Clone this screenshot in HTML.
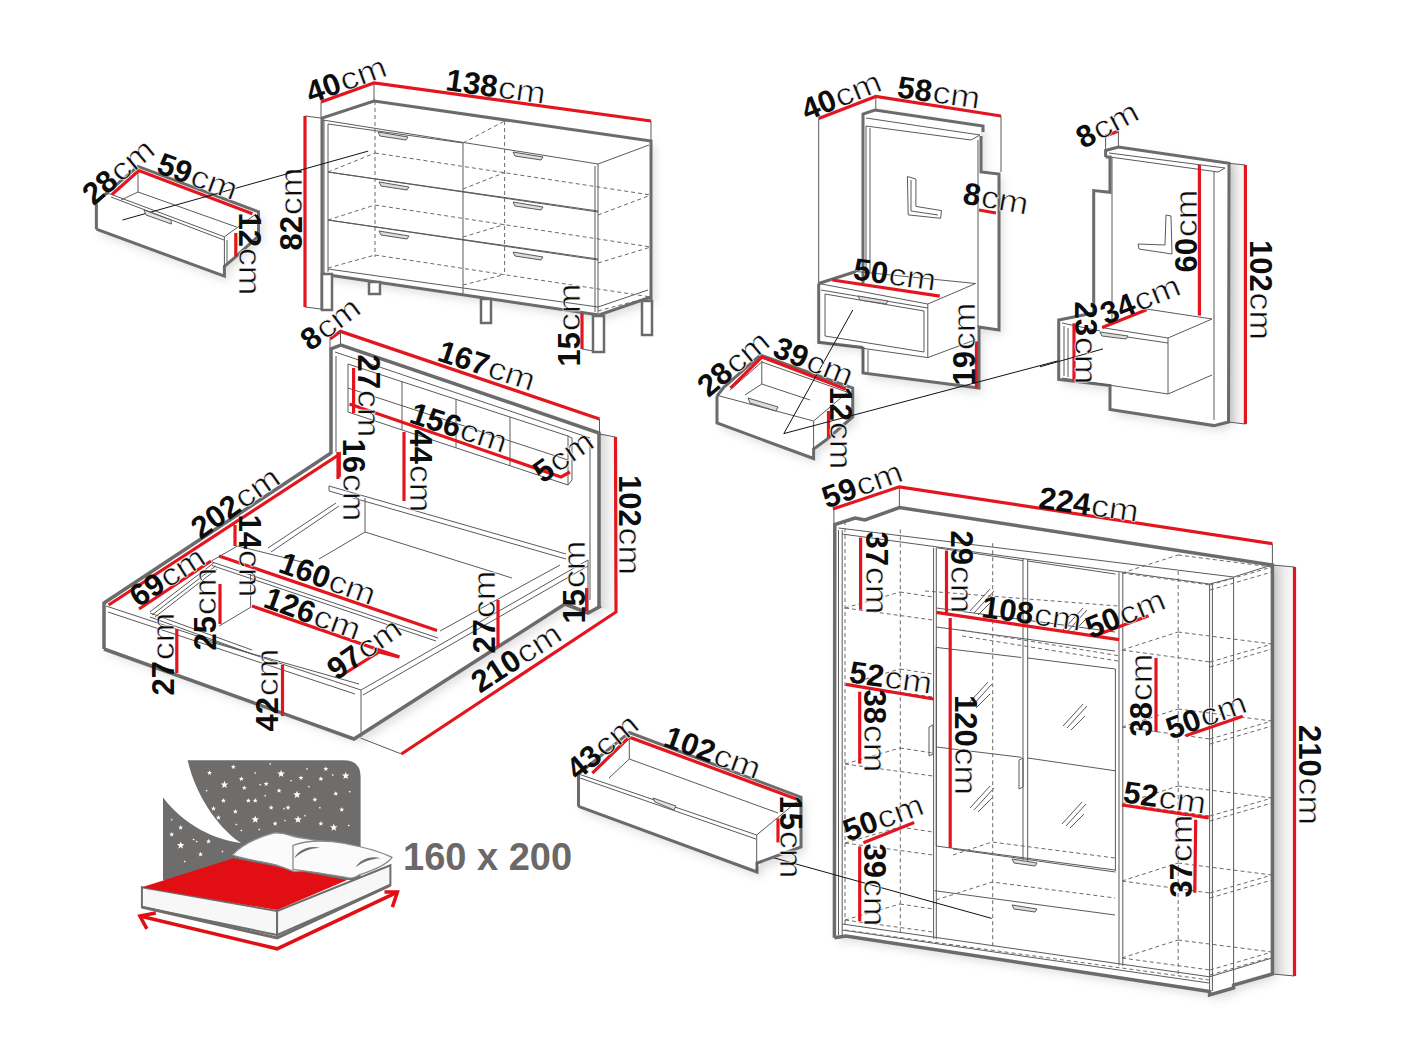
<!DOCTYPE html>
<html><head><meta charset="utf-8"><style>
html,body{margin:0;padding:0;background:#fff;width:1408px;height:1056px;overflow:hidden}
svg{display:block}
.t{font-family:"Liberation Sans",sans-serif;fill:#0d0d0d}
.b{font-weight:bold}
.u{stroke:#fff;stroke-width:0.6px}
</style></head><body>
<svg width="1408" height="1056" viewBox="0 0 1408 1056">
<defs><linearGradient id="sg" x1="0" x2="1" y1="0" y2="0"><stop offset="0" stop-color="#d6d6d6"/><stop offset="0.6" stop-color="#f0f0f0"/><stop offset="1" stop-color="#fafafa"/></linearGradient><filter id="sh" x="-20%" y="-20%" width="140%" height="140%"><feDropShadow dx="4" dy="5" stdDeviation="5" flood-color="#000" flood-opacity="0.13"/></filter></defs>
<rect width="1408" height="1056" fill="#fff"/>
<polygon points="322,118 374,101 651,141 651,297 599,315 324,274" fill="#fff" stroke="none" stroke-width="0" stroke-linejoin="miter" filter="url(#sh)"/>
<polyline points="323,120 598,164 649,145" fill="none" stroke="#5a5a5a" stroke-width="1" stroke-linejoin="miter" stroke-linecap="butt" />
<polyline points="328,124 463,143" fill="none" stroke="#5a5a5a" stroke-width="1" stroke-linejoin="miter" stroke-linecap="butt" />
<polyline points="598,164 598,313" fill="none" stroke="#5a5a5a" stroke-width="1" stroke-linejoin="miter" stroke-linecap="butt" />
<polyline points="595,166 595,312" fill="none" stroke="#5a5a5a" stroke-width="1" stroke-linejoin="miter" stroke-linecap="butt" />
<polyline points="324,120 324,273" fill="none" stroke="#5a5a5a" stroke-width="1" stroke-linejoin="miter" stroke-linecap="butt" />
<polyline points="328,124 328,272" fill="none" stroke="#5a5a5a" stroke-width="1" stroke-linejoin="miter" stroke-linecap="butt" />
<polyline points="463,143 463,294" fill="none" stroke="#5a5a5a" stroke-width="1" stroke-linejoin="miter" stroke-linecap="butt" />
<polyline points="328,172 598,212" fill="none" stroke="#5a5a5a" stroke-width="1" stroke-linejoin="miter" stroke-linecap="butt" />
<polyline points="328,220 598,260" fill="none" stroke="#5a5a5a" stroke-width="1" stroke-linejoin="miter" stroke-linecap="butt" />
<polyline points="328,172 598,211" fill="none" stroke="#5a5a5a" stroke-width="1" stroke-linejoin="miter" stroke-linecap="butt" />
<polyline points="328,220 598,259" fill="none" stroke="#5a5a5a" stroke-width="1" stroke-linejoin="miter" stroke-linecap="butt" />
<polyline points="328,269 598,307 648,290" fill="none" stroke="#5a5a5a" stroke-width="1" stroke-linejoin="miter" stroke-linecap="butt" />
<polyline points="322,274 599,315 651,297" fill="none" stroke="#6b6b6b" stroke-width="3" stroke-linejoin="miter" stroke-linecap="butt" />
<polyline points="322,310 322,118 374,101 651,141 651,334" fill="none" stroke="#6b6b6b" stroke-width="3" stroke-linejoin="miter" stroke-linecap="butt" />
<polygon points="322,274 332,274 332,310 322,310" fill="#fff" stroke="#6b6b6b" stroke-width="2.5" stroke-linejoin="miter" />
<polygon points="369,282 380,282 380,294 369,294" fill="#fff" stroke="#6b6b6b" stroke-width="2.5" stroke-linejoin="miter" />
<polygon points="481,299 491,299 491,323 481,323" fill="#fff" stroke="#6b6b6b" stroke-width="2.5" stroke-linejoin="miter" />
<polygon points="593,316 604,316 604,352 593,352" fill="#fff" stroke="#6b6b6b" stroke-width="2.5" stroke-linejoin="miter" />
<polygon points="642,301 652,301 652,335 642,335" fill="#fff" stroke="#6b6b6b" stroke-width="2.5" stroke-linejoin="miter" />
<polyline points="375,101 375,257" fill="none" stroke="#6a6a6a" stroke-width="1" stroke-linejoin="miter" stroke-linecap="butt" stroke-dasharray="4 3" />
<polyline points="504.6,121 504.6,274" fill="none" stroke="#6a6a6a" stroke-width="1" stroke-linejoin="miter" stroke-linecap="butt" stroke-dasharray="4 3" />
<polyline points="375,153 651,195" fill="none" stroke="#6a6a6a" stroke-width="1" stroke-linejoin="miter" stroke-linecap="butt" stroke-dasharray="4 3" />
<polyline points="328,172 375,153" fill="none" stroke="#6a6a6a" stroke-width="1" stroke-linejoin="miter" stroke-linecap="butt" stroke-dasharray="4 3" />
<polyline points="463,189 504.6,172.5" fill="none" stroke="#6a6a6a" stroke-width="1" stroke-linejoin="miter" stroke-linecap="butt" stroke-dasharray="4 3" />
<polyline points="598,215 651,195" fill="none" stroke="#6a6a6a" stroke-width="1" stroke-linejoin="miter" stroke-linecap="butt" stroke-dasharray="4 3" />
<polyline points="375,205 651,247" fill="none" stroke="#6a6a6a" stroke-width="1" stroke-linejoin="miter" stroke-linecap="butt" stroke-dasharray="4 3" />
<polyline points="328,220 375,205" fill="none" stroke="#6a6a6a" stroke-width="1" stroke-linejoin="miter" stroke-linecap="butt" stroke-dasharray="4 3" />
<polyline points="463,237 504.6,224.5" fill="none" stroke="#6a6a6a" stroke-width="1" stroke-linejoin="miter" stroke-linecap="butt" stroke-dasharray="4 3" />
<polyline points="598,263 651,247" fill="none" stroke="#6a6a6a" stroke-width="1" stroke-linejoin="miter" stroke-linecap="butt" stroke-dasharray="4 3" />
<polyline points="375,255 651,297" fill="none" stroke="#6a6a6a" stroke-width="1" stroke-linejoin="miter" stroke-linecap="butt" stroke-dasharray="4 3" />
<polyline points="328,268 375,255" fill="none" stroke="#6a6a6a" stroke-width="1" stroke-linejoin="miter" stroke-linecap="butt" stroke-dasharray="4 3" />
<polyline points="463,285 504.6,274.5" fill="none" stroke="#6a6a6a" stroke-width="1" stroke-linejoin="miter" stroke-linecap="butt" stroke-dasharray="4 3" />
<polyline points="598,311 651,297" fill="none" stroke="#6a6a6a" stroke-width="1" stroke-linejoin="miter" stroke-linecap="butt" stroke-dasharray="4 3" />
<polyline points="463,143 504.6,121" fill="none" stroke="#6a6a6a" stroke-width="1" stroke-linejoin="miter" stroke-linecap="butt" stroke-dasharray="4 3" />
<polygon points="378,132 408,137 406,140 380,136" fill="#ddd" stroke="#5a5a5a" stroke-width="1" stroke-linejoin="miter" />
<polygon points="379,182 409,187 407,190 381,186" fill="#ddd" stroke="#5a5a5a" stroke-width="1" stroke-linejoin="miter" />
<polygon points="379,231 409,236 407,239 381,235" fill="#ddd" stroke="#5a5a5a" stroke-width="1" stroke-linejoin="miter" />
<polygon points="513,152 543,157 541,160 515,156" fill="#ddd" stroke="#5a5a5a" stroke-width="1" stroke-linejoin="miter" />
<polygon points="513,202 543,207 541,210 515,206" fill="#ddd" stroke="#5a5a5a" stroke-width="1" stroke-linejoin="miter" />
<polygon points="513,252 543,257 541,260 515,256" fill="#ddd" stroke="#5a5a5a" stroke-width="1" stroke-linejoin="miter" />
<polyline points="305,116 305,307" fill="none" stroke="#e3161f" stroke-width="3.2" stroke-linejoin="miter" stroke-linecap="butt" />
<polyline points="305,116 321,118" fill="none" stroke="#5a5a5a" stroke-width="1" stroke-linejoin="miter" stroke-linecap="butt" />
<polyline points="305,307 321,309" fill="none" stroke="#5a5a5a" stroke-width="1" stroke-linejoin="miter" stroke-linecap="butt" />
<polyline points="321,102 374,83 651,121" fill="none" stroke="#e3161f" stroke-width="3.2" stroke-linejoin="miter" stroke-linecap="butt" />
<polyline points="321,102 321,117" fill="none" stroke="#5a5a5a" stroke-width="1" stroke-linejoin="miter" stroke-linecap="butt" />
<polyline points="374,83 374,100" fill="none" stroke="#5a5a5a" stroke-width="1" stroke-linejoin="miter" stroke-linecap="butt" />
<polyline points="651,121 651,140" fill="none" stroke="#5a5a5a" stroke-width="1" stroke-linejoin="miter" stroke-linecap="butt" />
<polyline points="582,313 582,349" fill="none" stroke="#e3161f" stroke-width="3.2" stroke-linejoin="miter" stroke-linecap="butt" />
<polyline points="582,349 593,351" fill="none" stroke="#5a5a5a" stroke-width="1" stroke-linejoin="miter" stroke-linecap="butt" />
<g transform="translate(346,79) rotate(-20)"><text x="-41.5" y="11.2" class="t b" font-size="31">40</text><text transform="translate(-6.0,11.2) scale(1.15,1)" class="t u" font-size="31">cm</text></g>
<g transform="translate(496,86) rotate(8)"><text x="-50.1" y="11.2" class="t b" font-size="31">138</text><text transform="translate(2.6,11.2) scale(1.15,1)" class="t u" font-size="31">cm</text></g>
<g transform="translate(291,209) rotate(-90)"><text x="-41.5" y="11.2" class="t b" font-size="31">82</text><text transform="translate(-6.0,11.2) scale(1.15,1)" class="t u" font-size="31">cm</text></g>
<g transform="translate(569,325) rotate(-90)"><text x="-41.5" y="11.2" class="t b" font-size="31">15</text><text transform="translate(-6.0,11.2) scale(1.15,1)" class="t u" font-size="31">cm</text></g>
<polygon points="96,229 96,203 138,166.4 258.5,211.8 258.5,236 235,257 224.4,266.4 224.4,276.2" fill="#fff" stroke="none" stroke-width="0" stroke-linejoin="miter" filter="url(#sh)"/>
<polyline points="96.4,229.2 96.4,202.7 103,196 138,166.4 258.5,211.8 258.5,236 235,257.3 224.4,266.4 224.4,276.2 96.4,229.2" fill="none" stroke="#6b6b6b" stroke-width="3" stroke-linejoin="miter" stroke-linecap="butt" />
<polyline points="105,195 109.2,193.6 224.4,236.8 256,214" fill="none" stroke="#5a5a5a" stroke-width="1" stroke-linejoin="miter" stroke-linecap="butt" />
<polyline points="111,197 224,240" fill="none" stroke="#5a5a5a" stroke-width="1" stroke-linejoin="miter" stroke-linecap="butt" />
<polyline points="224.4,236.8 224.4,266.4" fill="none" stroke="#5a5a5a" stroke-width="1" stroke-linejoin="miter" stroke-linecap="butt" />
<polyline points="227,240 227,263" fill="none" stroke="#5a5a5a" stroke-width="1" stroke-linejoin="miter" stroke-linecap="butt" />
<polyline points="138,171 138,192 236.5,227" fill="none" stroke="#5a5a5a" stroke-width="1" stroke-linejoin="miter" stroke-linecap="butt" />
<polyline points="138,192 121,200" fill="none" stroke="#5a5a5a" stroke-width="1" stroke-linejoin="miter" stroke-linecap="butt" />
<polyline points="112,194.5 138.75,170.5 252.5,213.75" fill="none" stroke="#e3161f" stroke-width="3.2" stroke-linejoin="miter" stroke-linecap="butt" />
<polyline points="235.8,233 235.8,256.5" fill="none" stroke="#e3161f" stroke-width="3.2" stroke-linejoin="miter" stroke-linecap="butt" />
<polyline points="122.5,220 368.2,151.1" fill="none" stroke="#111" stroke-width="1" stroke-linejoin="miter" stroke-linecap="butt" />
<polygon points="144,210 171,220 171.4,224 146,215" fill="#e5e5e5" stroke="#5a5a5a" stroke-width="1" stroke-linejoin="miter" />
<g transform="translate(118,171) rotate(-40)"><text x="-41.5" y="11.2" class="t b" font-size="31">28</text><text transform="translate(-6.0,11.2) scale(1.15,1)" class="t u" font-size="31">cm</text></g>
<g transform="translate(198,176) rotate(20)"><text x="-41.5" y="11.2" class="t b" font-size="31">59</text><text transform="translate(-6.0,11.2) scale(1.15,1)" class="t u" font-size="31">cm</text></g>
<g transform="translate(250,254) rotate(90)"><text x="-41.5" y="11.2" class="t b" font-size="31">12</text><text transform="translate(-6.0,11.2) scale(1.15,1)" class="t u" font-size="31">cm</text></g>
<polygon points="104,603 331,453 331,349 341,345 599,433 599,607 588,613 565,604 356,738 104,649" fill="#fff" stroke="none" stroke-width="0" stroke-linejoin="miter" filter="url(#sh)"/>
<polygon points="599,433 615.5,437 616,612 599,607" fill="url(#sg)"/>
<polyline points="330,339 340.5,331.4 599.5,419" fill="none" stroke="#e3161f" stroke-width="3.2" stroke-linejoin="miter" stroke-linecap="butt" />
<polyline points="330,339 330,349" fill="none" stroke="#5a5a5a" stroke-width="1" stroke-linejoin="miter" stroke-linecap="butt" />
<polyline points="340.5,331.4 340.5,345" fill="none" stroke="#5a5a5a" stroke-width="1" stroke-linejoin="miter" stroke-linecap="butt" />
<polyline points="599.5,419 599.5,434" fill="none" stroke="#5a5a5a" stroke-width="1" stroke-linejoin="miter" stroke-linecap="butt" />
<polyline points="331,454 331,349 341,345 599,433 599,607" fill="none" stroke="#6b6b6b" stroke-width="3.5" stroke-linejoin="miter" stroke-linecap="butt" />
<polyline points="335,352 590,438" fill="none" stroke="#5a5a5a" stroke-width="1" stroke-linejoin="miter" stroke-linecap="butt" />
<polyline points="336,356 336,452" fill="none" stroke="#5a5a5a" stroke-width="1" stroke-linejoin="miter" stroke-linecap="butt" />
<polyline points="590,440 590,600" fill="none" stroke="#5a5a5a" stroke-width="1" stroke-linejoin="miter" stroke-linecap="butt" />
<polyline points="348,364 568,436" fill="none" stroke="#5a5a5a" stroke-width="1" stroke-linejoin="miter" stroke-linecap="butt" />
<polyline points="348,388 568,460" fill="none" stroke="#5a5a5a" stroke-width="1" stroke-linejoin="miter" stroke-linecap="butt" />
<polyline points="348,412 568,485" fill="none" stroke="#5a5a5a" stroke-width="1" stroke-linejoin="miter" stroke-linecap="butt" />
<polyline points="348,364.0 348,412.0" fill="none" stroke="#5a5a5a" stroke-width="1" stroke-linejoin="miter" stroke-linecap="butt" />
<polyline points="402,381.658 402,429.928" fill="none" stroke="#5a5a5a" stroke-width="1" stroke-linejoin="miter" stroke-linecap="butt" />
<polyline points="456,399.31600000000003 456,447.856" fill="none" stroke="#5a5a5a" stroke-width="1" stroke-linejoin="miter" stroke-linecap="butt" />
<polyline points="510,416.974 510,465.784" fill="none" stroke="#5a5a5a" stroke-width="1" stroke-linejoin="miter" stroke-linecap="butt" />
<polyline points="568,435.94 568,485.04" fill="none" stroke="#5a5a5a" stroke-width="1" stroke-linejoin="miter" stroke-linecap="butt" />
<polyline points="568,436 572,438 572,480 568,485" fill="none" stroke="#5a5a5a" stroke-width="1" stroke-linejoin="miter" stroke-linecap="butt" />
<polyline points="349.5,404 561,477 570,472" fill="none" stroke="#e3161f" stroke-width="3.2" stroke-linejoin="miter" stroke-linecap="butt" />
<polyline points="353.6,368 353.6,413" fill="none" stroke="#e3161f" stroke-width="3.2" stroke-linejoin="miter" stroke-linecap="butt" />
<polyline points="404,432 404,501" fill="none" stroke="#e3161f" stroke-width="3.2" stroke-linejoin="miter" stroke-linecap="butt" />
<polyline points="338,452 338,479" fill="none" stroke="#e3161f" stroke-width="3.2" stroke-linejoin="miter" stroke-linecap="butt" />
<polyline points="615.5,437 616,612 401.4,754" fill="none" stroke="#e3161f" stroke-width="3.2" stroke-linejoin="miter" stroke-linecap="butt" />
<polyline points="599.5,434 615.5,437" fill="none" stroke="#5a5a5a" stroke-width="1" stroke-linejoin="miter" stroke-linecap="butt" />
<polyline points="360.5,738 401.4,754" fill="none" stroke="#5a5a5a" stroke-width="1" stroke-linejoin="miter" stroke-linecap="butt" />
<polyline points="329,486 566,554" fill="none" stroke="#5a5a5a" stroke-width="1" stroke-linejoin="miter" stroke-linecap="butt" />
<polyline points="329,491 566,559" fill="none" stroke="#5a5a5a" stroke-width="1" stroke-linejoin="miter" stroke-linecap="butt" />
<polyline points="329,486 329,491" fill="none" stroke="#5a5a5a" stroke-width="1" stroke-linejoin="miter" stroke-linecap="butt" />
<polyline points="104,649 104,603 331,453" fill="none" stroke="#6b6b6b" stroke-width="3.5" stroke-linejoin="miter" stroke-linecap="butt" />
<polyline points="108.6,605 339.3,454.5 339.3,477" fill="none" stroke="#e3161f" stroke-width="3.2" stroke-linejoin="miter" stroke-linecap="butt" />
<polyline points="106,606 361,690 361,737" fill="none" stroke="#5a5a5a" stroke-width="1" stroke-linejoin="miter" stroke-linecap="butt" />
<polyline points="108,612 355,694" fill="none" stroke="#5a5a5a" stroke-width="1" stroke-linejoin="miter" stroke-linecap="butt" />
<polyline points="361,690 588,560" fill="none" stroke="#5a5a5a" stroke-width="1" stroke-linejoin="miter" stroke-linecap="butt" />
<polyline points="363,695 588,566" fill="none" stroke="#5a5a5a" stroke-width="1" stroke-linejoin="miter" stroke-linecap="butt" />
<polyline points="104,649 354,739 565,604 588,613 601,606" fill="none" stroke="#6b6b6b" stroke-width="3.5" stroke-linejoin="miter" stroke-linecap="butt" />
<polyline points="588,560 588,613" fill="none" stroke="#5a5a5a" stroke-width="1" stroke-linejoin="miter" stroke-linecap="butt" />
<polyline points="268,548 336,503" fill="none" stroke="#5a5a5a" stroke-width="1" stroke-linejoin="miter" stroke-linecap="butt" />
<polyline points="271,552 339,506" fill="none" stroke="#5a5a5a" stroke-width="1" stroke-linejoin="miter" stroke-linecap="butt" />
<polyline points="212,562 438,638" fill="none" stroke="#5a5a5a" stroke-width="1" stroke-linejoin="miter" stroke-linecap="butt" />
<polyline points="212,565.5 436,641" fill="none" stroke="#5a5a5a" stroke-width="1" stroke-linejoin="miter" stroke-linecap="butt" />
<polyline points="150,613 252,650" fill="none" stroke="#5a5a5a" stroke-width="1" stroke-linejoin="miter" stroke-linecap="butt" />
<polyline points="150,617 252,654" fill="none" stroke="#5a5a5a" stroke-width="1" stroke-linejoin="miter" stroke-linecap="butt" />
<polyline points="365,498 365,532" fill="none" stroke="#5a5a5a" stroke-width="1" stroke-linejoin="miter" stroke-linecap="butt" />
<polyline points="365,532 512,578" fill="none" stroke="#5a5a5a" stroke-width="1" stroke-linejoin="miter" stroke-linecap="butt" />
<polyline points="365,532 319,559" fill="none" stroke="#5a5a5a" stroke-width="1" stroke-linejoin="miter" stroke-linecap="butt" />
<polyline points="250.6,574 250.6,607.3 219.3,626" fill="none" stroke="#5a5a5a" stroke-width="1" stroke-linejoin="miter" stroke-linecap="butt" />
<polyline points="200,639 359,684" fill="none" stroke="#5a5a5a" stroke-width="1" stroke-linejoin="miter" stroke-linecap="butt" />
<polyline points="150,611.8 213.6,563" fill="none" stroke="#5a5a5a" stroke-width="1" stroke-linejoin="miter" stroke-linecap="butt" />
<polyline points="152,615 215.6,566" fill="none" stroke="#5a5a5a" stroke-width="1" stroke-linejoin="miter" stroke-linecap="butt" />
<polyline points="155,617 217,569" fill="none" stroke="#5a5a5a" stroke-width="1" stroke-linejoin="miter" stroke-linecap="butt" />
<polyline points="237.5,546 211.4,561" fill="none" stroke="#5a5a5a" stroke-width="1" stroke-linejoin="miter" stroke-linecap="butt" />
<polyline points="237.5,546 310,564" fill="none" stroke="#5a5a5a" stroke-width="1" stroke-linejoin="miter" stroke-linecap="butt" />
<polyline points="440,631 560,565" fill="none" stroke="#5a5a5a" stroke-width="1" stroke-linejoin="miter" stroke-linecap="butt" />
<polyline points="235,525 235,546" fill="none" stroke="#e3161f" stroke-width="3.2" stroke-linejoin="miter" stroke-linecap="butt" />
<polyline points="139,609 211,561" fill="none" stroke="#e3161f" stroke-width="3.2" stroke-linejoin="miter" stroke-linecap="butt" />
<polyline points="219,556 437,630.5" fill="none" stroke="#e3161f" stroke-width="3.2" stroke-linejoin="miter" stroke-linecap="butt" />
<polyline points="220,584 220,624" fill="none" stroke="#e3161f" stroke-width="3.2" stroke-linejoin="miter" stroke-linecap="butt" />
<polyline points="252,606 399.5,657" fill="none" stroke="#e3161f" stroke-width="3.2" stroke-linejoin="miter" stroke-linecap="butt" />
<polyline points="339,677 379,652 399,657" fill="none" stroke="#e3161f" stroke-width="3.2" stroke-linejoin="miter" stroke-linecap="butt" />
<polyline points="176.8,629 176.8,673" fill="none" stroke="#e3161f" stroke-width="3.2" stroke-linejoin="miter" stroke-linecap="butt" />
<polyline points="282.5,665 282.5,716" fill="none" stroke="#e3161f" stroke-width="3.2" stroke-linejoin="miter" stroke-linecap="butt" />
<polyline points="498,600 498,647" fill="none" stroke="#e3161f" stroke-width="3.2" stroke-linejoin="miter" stroke-linecap="butt" />
<polyline points="586.6,588 586.6,611" fill="none" stroke="#e3161f" stroke-width="3.2" stroke-linejoin="miter" stroke-linecap="butt" />
<g transform="translate(487,365) rotate(18)"><text x="-50.1" y="11.2" class="t b" font-size="31">167</text><text transform="translate(2.6,11.2) scale(1.15,1)" class="t u" font-size="31">cm</text></g>
<g transform="translate(369,396) rotate(90)"><text x="-41.5" y="11.2" class="t b" font-size="31">27</text><text transform="translate(-6.0,11.2) scale(1.15,1)" class="t u" font-size="31">cm</text></g>
<g transform="translate(459,427) rotate(18)"><text x="-50.1" y="11.2" class="t b" font-size="31">156</text><text transform="translate(2.6,11.2) scale(1.15,1)" class="t u" font-size="31">cm</text></g>
<g transform="translate(421,471) rotate(90)"><text x="-41.5" y="11.2" class="t b" font-size="31">44</text><text transform="translate(-6.0,11.2) scale(1.15,1)" class="t u" font-size="31">cm</text></g>
<g transform="translate(354,480) rotate(90)"><text x="-41.5" y="11.2" class="t b" font-size="31">16</text><text transform="translate(-6.0,11.2) scale(1.15,1)" class="t u" font-size="31">cm</text></g>
<g transform="translate(563,456) rotate(-35)"><text x="-32.9" y="11.2" class="t b" font-size="31">5</text><text transform="translate(-14.6,11.2) scale(1.15,1)" class="t u" font-size="31">cm</text></g>
<g transform="translate(235,502) rotate(-35)"><text x="-50.1" y="11.2" class="t b" font-size="31">202</text><text transform="translate(2.6,11.2) scale(1.15,1)" class="t u" font-size="31">cm</text></g>
<g transform="translate(250,556) rotate(90)"><text x="-41.5" y="11.2" class="t b" font-size="31">14</text><text transform="translate(-6.0,11.2) scale(1.15,1)" class="t u" font-size="31">cm</text></g>
<g transform="translate(167,576) rotate(-33)"><text x="-41.5" y="11.2" class="t b" font-size="31">69</text><text transform="translate(-6.0,11.2) scale(1.15,1)" class="t u" font-size="31">cm</text></g>
<g transform="translate(328,578) rotate(20)"><text x="-50.1" y="11.2" class="t b" font-size="31">160</text><text transform="translate(2.6,11.2) scale(1.15,1)" class="t u" font-size="31">cm</text></g>
<g transform="translate(313,613) rotate(20)"><text x="-50.1" y="11.2" class="t b" font-size="31">126</text><text transform="translate(2.6,11.2) scale(1.15,1)" class="t u" font-size="31">cm</text></g>
<g transform="translate(205,609) rotate(-90)"><text x="-41.5" y="11.2" class="t b" font-size="31">25</text><text transform="translate(-6.0,11.2) scale(1.15,1)" class="t u" font-size="31">cm</text></g>
<g transform="translate(364,648) rotate(-35)"><text x="-41.5" y="11.2" class="t b" font-size="31">97</text><text transform="translate(-6.0,11.2) scale(1.15,1)" class="t u" font-size="31">cm</text></g>
<g transform="translate(163,654) rotate(-90)"><text x="-41.5" y="11.2" class="t b" font-size="31">27</text><text transform="translate(-6.0,11.2) scale(1.15,1)" class="t u" font-size="31">cm</text></g>
<g transform="translate(267,690) rotate(-90)"><text x="-41.5" y="11.2" class="t b" font-size="31">42</text><text transform="translate(-6.0,11.2) scale(1.15,1)" class="t u" font-size="31">cm</text></g>
<g transform="translate(484,612) rotate(-90)"><text x="-41.5" y="11.2" class="t b" font-size="31">27</text><text transform="translate(-6.0,11.2) scale(1.15,1)" class="t u" font-size="31">cm</text></g>
<g transform="translate(516,657) rotate(-33)"><text x="-50.1" y="11.2" class="t b" font-size="31">210</text><text transform="translate(2.6,11.2) scale(1.15,1)" class="t u" font-size="31">cm</text></g>
<g transform="translate(574,582) rotate(-90)"><text x="-41.5" y="11.2" class="t b" font-size="31">15</text><text transform="translate(-6.0,11.2) scale(1.15,1)" class="t u" font-size="31">cm</text></g>
<g transform="translate(630,525) rotate(90)"><text x="-50.1" y="11.2" class="t b" font-size="31">102</text><text transform="translate(2.6,11.2) scale(1.15,1)" class="t u" font-size="31">cm</text></g>
<g transform="translate(330,323) rotate(-37)"><text x="-32.9" y="11.2" class="t b" font-size="31">8</text><text transform="translate(-14.6,11.2) scale(1.15,1)" class="t u" font-size="31">cm</text></g>
<polygon points="1272.4,565 1294.5,567 1294.5,976 1272.4,974" fill="url(#sg)"/>
<polygon points="1229,163 1245.4,165 1245.4,424 1228,422" fill="url(#sg)"/>
<polygon points="863,113.5 875,109 981,124 981,172 998.6,173 998.6,329.5 978,327 978,388 863,373 863,347 818.7,342 818.7,283.5 856,271.5 863,272" fill="#fff" stroke="none" stroke-width="0" stroke-linejoin="miter" filter="url(#sh)"/>
<polyline points="818.7,118.6 875.8,96.4 1001,116" fill="none" stroke="#e3161f" stroke-width="3.2" stroke-linejoin="miter" stroke-linecap="butt" />
<polyline points="818.7,118.6 818.7,283" fill="none" stroke="#5a5a5a" stroke-width="1" stroke-linejoin="miter" stroke-linecap="butt" />
<polyline points="875.8,96.4 875.8,109" fill="none" stroke="#5a5a5a" stroke-width="1" stroke-linejoin="miter" stroke-linecap="butt" />
<polyline points="1001,116 1001,172" fill="none" stroke="#5a5a5a" stroke-width="1" stroke-linejoin="miter" stroke-linecap="butt" />
<polyline points="863,283 863,114 875,110 983,126 983,132" fill="none" stroke="#6b6b6b" stroke-width="3" stroke-linejoin="miter" stroke-linecap="butt" />
<polyline points="981,136 981,172 999,174 999,330 979,327 979,388 863,373 863,347" fill="none" stroke="#6b6b6b" stroke-width="3" stroke-linejoin="miter" stroke-linecap="butt" />
<polyline points="866,118 980,135 971,140 866,126" fill="none" stroke="#5a5a5a" stroke-width="1" stroke-linejoin="miter" stroke-linecap="butt" />
<polyline points="866,126 866,272" fill="none" stroke="#5a5a5a" stroke-width="1" stroke-linejoin="miter" stroke-linecap="butt" />
<polyline points="870,128 870,272" fill="none" stroke="#5a5a5a" stroke-width="1" stroke-linejoin="miter" stroke-linecap="butt" />
<polyline points="978,140 978,327" fill="none" stroke="#5a5a5a" stroke-width="1" stroke-linejoin="miter" stroke-linecap="butt" />
<polyline points="907.4,176.5 915.9,179 915.9,206.4 941.5,210.6 940.6,218.3 908.2,214.9 907.4,176.5" fill="none" stroke="#5a5a5a" stroke-width="1" stroke-linejoin="miter" stroke-linecap="butt" />
<polyline points="911,180 911,211 938,215" fill="none" stroke="#5a5a5a" stroke-width="1" stroke-linejoin="miter" stroke-linecap="butt" />
<polyline points="979,210 996,213" fill="none" stroke="#e3161f" stroke-width="3.2" stroke-linejoin="miter" stroke-linecap="butt" />
<polyline points="818.7,283.5 818.7,342.3 863,347.4" fill="none" stroke="#6b6b6b" stroke-width="3" stroke-linejoin="miter" stroke-linecap="butt" />
<polyline points="818.7,283.5 856,271.5" fill="none" stroke="#6b6b6b" stroke-width="3" stroke-linejoin="miter" stroke-linecap="butt" />
<polyline points="856,271.5 975.6,283.5 927.8,304 818.7,283.5" fill="none" stroke="#5a5a5a" stroke-width="1" stroke-linejoin="miter" stroke-linecap="butt" />
<polyline points="821,290 927.8,308" fill="none" stroke="#5a5a5a" stroke-width="1" stroke-linejoin="miter" stroke-linecap="butt" />
<polyline points="927.8,304 927.8,357.6 818.7,342" fill="none" stroke="#5a5a5a" stroke-width="1" stroke-linejoin="miter" stroke-linecap="butt" />
<polyline points="927.8,357.6 975.6,339.7" fill="none" stroke="#5a5a5a" stroke-width="1" stroke-linejoin="miter" stroke-linecap="butt" />
<polyline points="825,294 924,311 924,352 825,336 825,294" fill="none" stroke="#5a5a5a" stroke-width="1" stroke-linejoin="miter" stroke-linecap="butt" />
<polygon points="858,296 888,301 886,304 860,300" fill="#ddd" stroke="#5a5a5a" stroke-width="1" stroke-linejoin="miter" />
<polyline points="863,347 863,373" fill="none" stroke="#5a5a5a" stroke-width="1" stroke-linejoin="miter" stroke-linecap="butt" />
<polyline points="868,350 868,372" fill="none" stroke="#5a5a5a" stroke-width="1" stroke-linejoin="miter" stroke-linecap="butt" />
<polyline points="832.4,280 939.8,296.2" fill="none" stroke="#e3161f" stroke-width="3.2" stroke-linejoin="miter" stroke-linecap="butt" />
<polyline points="976.4,341.4 976.4,388.3" fill="none" stroke="#e3161f" stroke-width="3.2" stroke-linejoin="miter" stroke-linecap="butt" />
<g transform="translate(841,95) rotate(-22)"><text x="-41.5" y="11.2" class="t b" font-size="31">40</text><text transform="translate(-6.0,11.2) scale(1.15,1)" class="t u" font-size="31">cm</text></g>
<g transform="translate(939,92) rotate(8)"><text x="-41.5" y="11.2" class="t b" font-size="31">58</text><text transform="translate(-6.0,11.2) scale(1.15,1)" class="t u" font-size="31">cm</text></g>
<g transform="translate(996,198) rotate(10)"><text x="-32.9" y="11.2" class="t b" font-size="31">8</text><text transform="translate(-14.6,11.2) scale(1.15,1)" class="t u" font-size="31">cm</text></g>
<g transform="translate(895,274) rotate(8)"><text x="-41.5" y="11.2" class="t b" font-size="31">50</text><text transform="translate(-6.0,11.2) scale(1.15,1)" class="t u" font-size="31">cm</text></g>
<g transform="translate(964,344) rotate(-90)"><text x="-41.5" y="11.2" class="t b" font-size="31">19</text><text transform="translate(-6.0,11.2) scale(1.15,1)" class="t u" font-size="31">cm</text></g>
<polygon points="717,395 724,387 760.4,355 852.7,388 852.7,417 825,440.7 813.6,448.5 813.6,458.5 717,423" fill="#fff" stroke="none" stroke-width="0" stroke-linejoin="miter" filter="url(#sh)"/>
<polyline points="717,396 724,387 760.4,355 852.7,388 852.7,417 826,440 813.6,449 813.6,458.5 717,423 717,396" fill="none" stroke="#6b6b6b" stroke-width="3" stroke-linejoin="miter" stroke-linecap="butt" />
<polyline points="717,395.3 813.6,421 849,391" fill="none" stroke="#5a5a5a" stroke-width="1" stroke-linejoin="miter" stroke-linecap="butt" />
<polyline points="813.6,421 813.6,449" fill="none" stroke="#5a5a5a" stroke-width="1" stroke-linejoin="miter" stroke-linecap="butt" />
<polyline points="730,390 761.8,362 847,392" fill="none" stroke="#5a5a5a" stroke-width="1" stroke-linejoin="miter" stroke-linecap="butt" />
<polyline points="761.8,361 761.8,384 810,400" fill="none" stroke="#5a5a5a" stroke-width="1" stroke-linejoin="miter" stroke-linecap="butt" />
<polyline points="761.8,384 745,395" fill="none" stroke="#5a5a5a" stroke-width="1" stroke-linejoin="miter" stroke-linecap="butt" />
<polygon points="748,398 778,407 776,411 750,403" fill="#ddd" stroke="#5a5a5a" stroke-width="1" stroke-linejoin="miter" />
<polyline points="730.5,388.2 761.8,357 845.6,389" fill="none" stroke="#e3161f" stroke-width="3.2" stroke-linejoin="miter" stroke-linecap="butt" />
<polyline points="828.5,411 828.5,437" fill="none" stroke="#e3161f" stroke-width="3.2" stroke-linejoin="miter" stroke-linecap="butt" />
<polyline points="783.8,433.6 852.8,310" fill="none" stroke="#111" stroke-width="1" stroke-linejoin="miter" stroke-linecap="butt" />
<polyline points="783.8,433.6 1103,348.9" fill="none" stroke="#111" stroke-width="1" stroke-linejoin="miter" stroke-linecap="butt" />
<g transform="translate(733,363) rotate(-40)"><text x="-41.5" y="11.2" class="t b" font-size="31">28</text><text transform="translate(-6.0,11.2) scale(1.15,1)" class="t u" font-size="31">cm</text></g>
<g transform="translate(814,361) rotate(22)"><text x="-41.5" y="11.2" class="t b" font-size="31">39</text><text transform="translate(-6.0,11.2) scale(1.15,1)" class="t u" font-size="31">cm</text></g>
<g transform="translate(841,428) rotate(90)"><text x="-41.5" y="11.2" class="t b" font-size="31">12</text><text transform="translate(-6.0,11.2) scale(1.15,1)" class="t u" font-size="31">cm</text></g>
<polygon points="1105.6,150.5 1118.4,147 1229,163 1228,422 1214,425.6 1110,409.4 1110,385.5 1058.7,379.5 1058.7,320 1093.7,313 1093.7,190.6 1110,192.3 1110,157" fill="#fff" stroke="none" stroke-width="0" stroke-linejoin="miter" filter="url(#sh)"/>
<polyline points="1105.6,136 1118.4,131" fill="none" stroke="#e3161f" stroke-width="3.2" stroke-linejoin="miter" stroke-linecap="butt" />
<polyline points="1105.6,136 1105.6,150" fill="none" stroke="#5a5a5a" stroke-width="1" stroke-linejoin="miter" stroke-linecap="butt" />
<polyline points="1118.4,131 1118.4,146" fill="none" stroke="#5a5a5a" stroke-width="1" stroke-linejoin="miter" stroke-linecap="butt" />
<polyline points="1105.6,157 1105.6,150.5 1118.4,147 1229,163.3 1228.5,422 1214,425.6 1110,409.4 1110,385.5 1058.7,379.5 1058.7,320 1093.7,313 1093.7,190.6 1110,192.3 1110,157 1105.6,157" fill="none" stroke="#6b6b6b" stroke-width="3" stroke-linejoin="miter" stroke-linecap="butt" />
<polyline points="1109,153 1225,168 1218,172 1110,157" fill="none" stroke="#5a5a5a" stroke-width="1" stroke-linejoin="miter" stroke-linecap="butt" />
<polyline points="1112,158 1112,320" fill="none" stroke="#5a5a5a" stroke-width="1" stroke-linejoin="miter" stroke-linecap="butt" />
<polyline points="1214,172 1214,420" fill="none" stroke="#5a5a5a" stroke-width="1" stroke-linejoin="miter" stroke-linecap="butt" />
<polyline points="1229,163.3 1245.4,165" fill="none" stroke="#5a5a5a" stroke-width="1" stroke-linejoin="miter" stroke-linecap="butt" />
<polyline points="1228,422 1245.4,424" fill="none" stroke="#5a5a5a" stroke-width="1" stroke-linejoin="miter" stroke-linecap="butt" />
<polyline points="1245.4,165 1245.4,424" fill="none" stroke="#e3161f" stroke-width="3.2" stroke-linejoin="miter" stroke-linecap="butt" />
<polyline points="1199.4,165 1199.4,315.6" fill="none" stroke="#e3161f" stroke-width="3.2" stroke-linejoin="miter" stroke-linecap="butt" />
<polyline points="1166,215 1171,216 1172,254 1139,249 1138,244 1165,245 1166,215" fill="none" stroke="#5a5a5a" stroke-width="1" stroke-linejoin="miter" stroke-linecap="butt" />
<polyline points="1102,327.6 1146.5,309 1212,319 1168,338 1102,327.6" fill="none" stroke="#5a5a5a" stroke-width="1" stroke-linejoin="miter" stroke-linecap="butt" />
<polyline points="1100,333 1168,343" fill="none" stroke="#5a5a5a" stroke-width="1" stroke-linejoin="miter" stroke-linecap="butt" />
<polyline points="1168,338 1168,394" fill="none" stroke="#5a5a5a" stroke-width="1" stroke-linejoin="miter" stroke-linecap="butt" />
<polyline points="1168,394 1212,375" fill="none" stroke="#5a5a5a" stroke-width="1" stroke-linejoin="miter" stroke-linecap="butt" />
<polyline points="1062,323 1100,331" fill="none" stroke="#5a5a5a" stroke-width="1" stroke-linejoin="miter" stroke-linecap="butt" />
<polyline points="1062,378 1168,394" fill="none" stroke="#5a5a5a" stroke-width="1" stroke-linejoin="miter" stroke-linecap="butt" />
<polyline points="1064,326 1064,376" fill="none" stroke="#5a5a5a" stroke-width="1" stroke-linejoin="miter" stroke-linecap="butt" />
<polyline points="1068,328 1068,377" fill="none" stroke="#5a5a5a" stroke-width="1" stroke-linejoin="miter" stroke-linecap="butt" />
<polygon points="1100,332 1128,336 1126,339 1102,336" fill="#ddd" stroke="#5a5a5a" stroke-width="1" stroke-linejoin="miter" />
<polyline points="1074,323.3 1074,381.2" fill="none" stroke="#e3161f" stroke-width="3.2" stroke-linejoin="miter" stroke-linecap="butt" />
<polyline points="1102.2,327.6 1146.5,309.7" fill="none" stroke="#e3161f" stroke-width="3.2" stroke-linejoin="miter" stroke-linecap="butt" />
<polyline points="1040,366.8 1103,348.9" fill="none" stroke="#111" stroke-width="1" stroke-linejoin="miter" stroke-linecap="butt" />
<g transform="translate(1107,124) rotate(-28)"><text x="-32.9" y="11.2" class="t b" font-size="31">8</text><text transform="translate(-14.6,11.2) scale(1.15,1)" class="t u" font-size="31">cm</text></g>
<g transform="translate(1186,231) rotate(-90)"><text x="-41.5" y="11.2" class="t b" font-size="31">60</text><text transform="translate(-6.0,11.2) scale(1.15,1)" class="t u" font-size="31">cm</text></g>
<g transform="translate(1261,290) rotate(90)"><text x="-50.1" y="11.2" class="t b" font-size="31">102</text><text transform="translate(2.6,11.2) scale(1.15,1)" class="t u" font-size="31">cm</text></g>
<g transform="translate(1140,299) rotate(-22)"><text x="-41.5" y="11.2" class="t b" font-size="31">34</text><text transform="translate(-6.0,11.2) scale(1.15,1)" class="t u" font-size="31">cm</text></g>
<g transform="translate(1086,343) rotate(90)"><text x="-41.5" y="11.2" class="t b" font-size="31">23</text><text transform="translate(-6.0,11.2) scale(1.15,1)" class="t u" font-size="31">cm</text></g>
<polygon points="834.8,524.6 855,518 865,520 899.4,507.6 1272.4,565 1272.4,974 1233.6,985 1233.6,988 1209.6,995 1209.6,991.6 845.9,936 834.4,937.8" fill="#fff" stroke="none" stroke-width="0" stroke-linejoin="miter" filter="url(#sh)"/>
<polyline points="832.9,509 899.4,486.8 1272.4,543.7" fill="none" stroke="#e3161f" stroke-width="3.2" stroke-linejoin="miter" stroke-linecap="butt" />
<polyline points="833.9,509 833.9,525" fill="none" stroke="#5a5a5a" stroke-width="1" stroke-linejoin="miter" stroke-linecap="butt" />
<polyline points="899.4,486.8 899.4,507" fill="none" stroke="#5a5a5a" stroke-width="1" stroke-linejoin="miter" stroke-linecap="butt" />
<polyline points="1272.4,543.7 1272.4,565" fill="none" stroke="#5a5a5a" stroke-width="1" stroke-linejoin="miter" stroke-linecap="butt" />
<polyline points="1272.4,565 1294.5,567" fill="none" stroke="#5a5a5a" stroke-width="1" stroke-linejoin="miter" stroke-linecap="butt" />
<polyline points="1272.4,974 1294.5,976" fill="none" stroke="#5a5a5a" stroke-width="1" stroke-linejoin="miter" stroke-linecap="butt" />
<polyline points="1294.5,567 1294.5,976" fill="none" stroke="#e3161f" stroke-width="3.2" stroke-linejoin="miter" stroke-linecap="butt" />
<polyline points="838.5,528 1233.6,577 1272,565" fill="none" stroke="#5a5a5a" stroke-width="1" stroke-linejoin="miter" stroke-linecap="butt" />
<polyline points="842,534 1209.6,584 1233,578" fill="none" stroke="#5a5a5a" stroke-width="1" stroke-linejoin="miter" stroke-linecap="butt" />
<polyline points="838.5,530 838.5,935" fill="none" stroke="#5a5a5a" stroke-width="1" stroke-linejoin="miter" stroke-linecap="butt" />
<polyline points="842.2,530 842.2,935" fill="none" stroke="#5a5a5a" stroke-width="1" stroke-linejoin="miter" stroke-linecap="butt" />
<polyline points="1209.6,584 1209.6,991" fill="none" stroke="#5a5a5a" stroke-width="1" stroke-linejoin="miter" stroke-linecap="butt" />
<polyline points="1212.4,583 1212.4,991" fill="none" stroke="#5a5a5a" stroke-width="1" stroke-linejoin="miter" stroke-linecap="butt" />
<polyline points="1233.6,577 1233.6,985" fill="none" stroke="#5a5a5a" stroke-width="1" stroke-linejoin="miter" stroke-linecap="butt" />
<polyline points="842.2,924 1209.6,976.8 1272,958" fill="none" stroke="#5a5a5a" stroke-width="1" stroke-linejoin="miter" stroke-linecap="butt" />
<polyline points="842,930 1209,983" fill="none" stroke="#5a5a5a" stroke-width="1" stroke-linejoin="miter" stroke-linecap="butt" />
<polyline points="933.6,547.7148 933.6,938.7664" fill="none" stroke="#5a5a5a" stroke-width="1" stroke-linejoin="miter" stroke-linecap="butt" />
<polyline points="936.3,548.0739 936.3,939.1552" fill="none" stroke="#5a5a5a" stroke-width="1" stroke-linejoin="miter" stroke-linecap="butt" />
<polyline points="1119,572.373 1119,965.4639999999999" fill="none" stroke="#5a5a5a" stroke-width="1" stroke-linejoin="miter" stroke-linecap="butt" />
<polyline points="1122.8,572.8784 1122.8,966.0112" fill="none" stroke="#5a5a5a" stroke-width="1" stroke-linejoin="miter" stroke-linecap="butt" />
<polyline points="936.3,547.7 1023,560.6" fill="none" stroke="#5a5a5a" stroke-width="1" stroke-linejoin="miter" stroke-linecap="butt" />
<polyline points="1027.7,561 1115.4,574" fill="none" stroke="#5a5a5a" stroke-width="1" stroke-linejoin="miter" stroke-linecap="butt" />
<polyline points="936.3,647.4 1021.3,657.5" fill="none" stroke="#5a5a5a" stroke-width="1" stroke-linejoin="miter" stroke-linecap="butt" />
<polyline points="1027.7,658 1115.4,669" fill="none" stroke="#5a5a5a" stroke-width="1" stroke-linejoin="miter" stroke-linecap="butt" />
<polyline points="936.3,627 1115,651" fill="none" stroke="#5a5a5a" stroke-width="1" stroke-linejoin="miter" stroke-linecap="butt" />
<polyline points="1023,558 1023,860" fill="none" stroke="#5a5a5a" stroke-width="1" stroke-linejoin="miter" stroke-linecap="butt" />
<polyline points="1027.7,559 1027.7,861" fill="none" stroke="#5a5a5a" stroke-width="1" stroke-linejoin="miter" stroke-linecap="butt" />
<polyline points="936.3,747 1021.3,757.3" fill="none" stroke="#5a5a5a" stroke-width="1" stroke-linejoin="miter" stroke-linecap="butt" />
<polyline points="1027.7,758 1115.4,770.8" fill="none" stroke="#5a5a5a" stroke-width="1" stroke-linejoin="miter" stroke-linecap="butt" />
<polyline points="953,849 1115.4,872" fill="none" stroke="#5a5a5a" stroke-width="1" stroke-linejoin="miter" stroke-linecap="butt" />
<polyline points="936,846 1115,870" fill="none" stroke="#5a5a5a" stroke-width="1" stroke-linejoin="miter" stroke-linecap="butt" />
<polyline points="1115.4,669 1115.4,871" fill="none" stroke="#5a5a5a" stroke-width="1" stroke-linejoin="miter" stroke-linecap="butt" />
<polyline points="936.3,647 936.3,846" fill="none" stroke="#5a5a5a" stroke-width="1" stroke-linejoin="miter" stroke-linecap="butt" />
<polyline points="934.5,890.7 1115,915" fill="none" stroke="#5a5a5a" stroke-width="1" stroke-linejoin="miter" stroke-linecap="butt" />
<polyline points="936.3,608 1115,632" fill="none" stroke="#5a5a5a" stroke-width="1" stroke-linejoin="miter" stroke-linecap="butt" />
<polyline points="970,611 990,589" fill="none" stroke="#5a5a5a" stroke-width="1" stroke-linejoin="miter" stroke-linecap="butt" />
<polyline points="974,613 994,591" fill="none" stroke="#5a5a5a" stroke-width="1" stroke-linejoin="miter" stroke-linecap="butt" />
<polyline points="978,615 992,601" fill="none" stroke="#5a5a5a" stroke-width="1" stroke-linejoin="miter" stroke-linecap="butt" />
<polyline points="1063,630 1083,608" fill="none" stroke="#5a5a5a" stroke-width="1" stroke-linejoin="miter" stroke-linecap="butt" />
<polyline points="1067,632 1087,610" fill="none" stroke="#5a5a5a" stroke-width="1" stroke-linejoin="miter" stroke-linecap="butt" />
<polyline points="1071,634 1085,620" fill="none" stroke="#5a5a5a" stroke-width="1" stroke-linejoin="miter" stroke-linecap="butt" />
<polyline points="968,704 988,682" fill="none" stroke="#5a5a5a" stroke-width="1" stroke-linejoin="miter" stroke-linecap="butt" />
<polyline points="972,706 992,684" fill="none" stroke="#5a5a5a" stroke-width="1" stroke-linejoin="miter" stroke-linecap="butt" />
<polyline points="976,708 990,694" fill="none" stroke="#5a5a5a" stroke-width="1" stroke-linejoin="miter" stroke-linecap="butt" />
<polyline points="970,808 990,786" fill="none" stroke="#5a5a5a" stroke-width="1" stroke-linejoin="miter" stroke-linecap="butt" />
<polyline points="974,810 994,788" fill="none" stroke="#5a5a5a" stroke-width="1" stroke-linejoin="miter" stroke-linecap="butt" />
<polyline points="978,812 992,798" fill="none" stroke="#5a5a5a" stroke-width="1" stroke-linejoin="miter" stroke-linecap="butt" />
<polyline points="1063,726 1083,704" fill="none" stroke="#5a5a5a" stroke-width="1" stroke-linejoin="miter" stroke-linecap="butt" />
<polyline points="1067,728 1087,706" fill="none" stroke="#5a5a5a" stroke-width="1" stroke-linejoin="miter" stroke-linecap="butt" />
<polyline points="1071,730 1085,716" fill="none" stroke="#5a5a5a" stroke-width="1" stroke-linejoin="miter" stroke-linecap="butt" />
<polyline points="1062,824 1082,802" fill="none" stroke="#5a5a5a" stroke-width="1" stroke-linejoin="miter" stroke-linecap="butt" />
<polyline points="1066,826 1086,804" fill="none" stroke="#5a5a5a" stroke-width="1" stroke-linejoin="miter" stroke-linecap="butt" />
<polyline points="1070,828 1084,814" fill="none" stroke="#5a5a5a" stroke-width="1" stroke-linejoin="miter" stroke-linecap="butt" />
<polyline points="929,727 933,725 933,754 929,756 929,727" fill="none" stroke="#5a5a5a" stroke-width="1" stroke-linejoin="miter" stroke-linecap="butt" />
<polyline points="1019,760 1023,758 1023,787 1019,789 1019,760" fill="none" stroke="#5a5a5a" stroke-width="1" stroke-linejoin="miter" stroke-linecap="butt" />
<polygon points="1012,859 1037,863 1035,866 1014,863" fill="#ddd" stroke="#5a5a5a" stroke-width="1" stroke-linejoin="miter" />
<polygon points="1012,905 1037,909 1035,912 1014,909" fill="#ddd" stroke="#5a5a5a" stroke-width="1" stroke-linejoin="miter" />
<polyline points="845,521.05 845,926.015" fill="none" stroke="#6a6a6a" stroke-width="1" stroke-linejoin="miter" stroke-linecap="butt" stroke-dasharray="4 3" />
<polyline points="900.3,529.345 900.3,934.0335" fill="none" stroke="#6a6a6a" stroke-width="1" stroke-linejoin="miter" stroke-linecap="butt" stroke-dasharray="4 3" />
<polyline points="992.7,543.205 992.7,947.4315" fill="none" stroke="#6a6a6a" stroke-width="1" stroke-linejoin="miter" stroke-linecap="butt" stroke-dasharray="4 3" />
<polyline points="1178.2,571.03 1178.2,974.329" fill="none" stroke="#6a6a6a" stroke-width="1" stroke-linejoin="miter" stroke-linecap="butt" stroke-dasharray="4 3" />
<polyline points="845,608 933,620" fill="none" stroke="#6a6a6a" stroke-width="1" stroke-linejoin="miter" stroke-linecap="butt" stroke-dasharray="4 3" />
<polyline points="845,608 900,592" fill="none" stroke="#6a6a6a" stroke-width="1" stroke-linejoin="miter" stroke-linecap="butt" stroke-dasharray="4 3" />
<polyline points="900,592 933,597" fill="none" stroke="#6a6a6a" stroke-width="1" stroke-linejoin="miter" stroke-linecap="butt" stroke-dasharray="4 3" />
<polyline points="845,685 933,697" fill="none" stroke="#6a6a6a" stroke-width="1" stroke-linejoin="miter" stroke-linecap="butt" stroke-dasharray="4 3" />
<polyline points="845,685 900,669" fill="none" stroke="#6a6a6a" stroke-width="1" stroke-linejoin="miter" stroke-linecap="butt" stroke-dasharray="4 3" />
<polyline points="900,669 933,674" fill="none" stroke="#6a6a6a" stroke-width="1" stroke-linejoin="miter" stroke-linecap="butt" stroke-dasharray="4 3" />
<polyline points="845,764 933,776" fill="none" stroke="#6a6a6a" stroke-width="1" stroke-linejoin="miter" stroke-linecap="butt" stroke-dasharray="4 3" />
<polyline points="845,764 900,748" fill="none" stroke="#6a6a6a" stroke-width="1" stroke-linejoin="miter" stroke-linecap="butt" stroke-dasharray="4 3" />
<polyline points="900,748 933,753" fill="none" stroke="#6a6a6a" stroke-width="1" stroke-linejoin="miter" stroke-linecap="butt" stroke-dasharray="4 3" />
<polyline points="845,843 933,855" fill="none" stroke="#6a6a6a" stroke-width="1" stroke-linejoin="miter" stroke-linecap="butt" stroke-dasharray="4 3" />
<polyline points="845,843 900,827" fill="none" stroke="#6a6a6a" stroke-width="1" stroke-linejoin="miter" stroke-linecap="butt" stroke-dasharray="4 3" />
<polyline points="900,827 933,832" fill="none" stroke="#6a6a6a" stroke-width="1" stroke-linejoin="miter" stroke-linecap="butt" stroke-dasharray="4 3" />
<polyline points="845,920 933,932" fill="none" stroke="#6a6a6a" stroke-width="1" stroke-linejoin="miter" stroke-linecap="butt" stroke-dasharray="4 3" />
<polyline points="845,920 900,904" fill="none" stroke="#6a6a6a" stroke-width="1" stroke-linejoin="miter" stroke-linecap="butt" stroke-dasharray="4 3" />
<polyline points="900,904 933,909" fill="none" stroke="#6a6a6a" stroke-width="1" stroke-linejoin="miter" stroke-linecap="butt" stroke-dasharray="4 3" />
<polyline points="1122,573 1210,585" fill="none" stroke="#6a6a6a" stroke-width="1" stroke-linejoin="miter" stroke-linecap="butt" stroke-dasharray="4 3" />
<polyline points="1210,585 1272,567" fill="none" stroke="#6a6a6a" stroke-width="1" stroke-linejoin="miter" stroke-linecap="butt" stroke-dasharray="4 3" />
<polyline points="1210,590 1272,572" fill="none" stroke="#6a6a6a" stroke-width="1" stroke-linejoin="miter" stroke-linecap="butt" stroke-dasharray="4 3" />
<polyline points="1122,573 1178,555" fill="none" stroke="#6a6a6a" stroke-width="1" stroke-linejoin="miter" stroke-linecap="butt" stroke-dasharray="4 3" />
<polyline points="1178,555 1272,567" fill="none" stroke="#6a6a6a" stroke-width="1" stroke-linejoin="miter" stroke-linecap="butt" stroke-dasharray="4 3" />
<polyline points="1122,650 1210,662" fill="none" stroke="#6a6a6a" stroke-width="1" stroke-linejoin="miter" stroke-linecap="butt" stroke-dasharray="4 3" />
<polyline points="1210,662 1272,644" fill="none" stroke="#6a6a6a" stroke-width="1" stroke-linejoin="miter" stroke-linecap="butt" stroke-dasharray="4 3" />
<polyline points="1210,667 1272,649" fill="none" stroke="#6a6a6a" stroke-width="1" stroke-linejoin="miter" stroke-linecap="butt" stroke-dasharray="4 3" />
<polyline points="1122,650 1178,632" fill="none" stroke="#6a6a6a" stroke-width="1" stroke-linejoin="miter" stroke-linecap="butt" stroke-dasharray="4 3" />
<polyline points="1178,632 1272,644" fill="none" stroke="#6a6a6a" stroke-width="1" stroke-linejoin="miter" stroke-linecap="butt" stroke-dasharray="4 3" />
<polyline points="1122,727 1210,739" fill="none" stroke="#6a6a6a" stroke-width="1" stroke-linejoin="miter" stroke-linecap="butt" stroke-dasharray="4 3" />
<polyline points="1210,739 1272,721" fill="none" stroke="#6a6a6a" stroke-width="1" stroke-linejoin="miter" stroke-linecap="butt" stroke-dasharray="4 3" />
<polyline points="1210,744 1272,726" fill="none" stroke="#6a6a6a" stroke-width="1" stroke-linejoin="miter" stroke-linecap="butt" stroke-dasharray="4 3" />
<polyline points="1122,727 1178,709" fill="none" stroke="#6a6a6a" stroke-width="1" stroke-linejoin="miter" stroke-linecap="butt" stroke-dasharray="4 3" />
<polyline points="1178,709 1272,721" fill="none" stroke="#6a6a6a" stroke-width="1" stroke-linejoin="miter" stroke-linecap="butt" stroke-dasharray="4 3" />
<polyline points="1122,804 1210,816" fill="none" stroke="#6a6a6a" stroke-width="1" stroke-linejoin="miter" stroke-linecap="butt" stroke-dasharray="4 3" />
<polyline points="1210,816 1272,798" fill="none" stroke="#6a6a6a" stroke-width="1" stroke-linejoin="miter" stroke-linecap="butt" stroke-dasharray="4 3" />
<polyline points="1210,821 1272,803" fill="none" stroke="#6a6a6a" stroke-width="1" stroke-linejoin="miter" stroke-linecap="butt" stroke-dasharray="4 3" />
<polyline points="1122,804 1178,786" fill="none" stroke="#6a6a6a" stroke-width="1" stroke-linejoin="miter" stroke-linecap="butt" stroke-dasharray="4 3" />
<polyline points="1178,786 1272,798" fill="none" stroke="#6a6a6a" stroke-width="1" stroke-linejoin="miter" stroke-linecap="butt" stroke-dasharray="4 3" />
<polyline points="1122,881 1210,893" fill="none" stroke="#6a6a6a" stroke-width="1" stroke-linejoin="miter" stroke-linecap="butt" stroke-dasharray="4 3" />
<polyline points="1210,893 1272,875" fill="none" stroke="#6a6a6a" stroke-width="1" stroke-linejoin="miter" stroke-linecap="butt" stroke-dasharray="4 3" />
<polyline points="1210,898 1272,880" fill="none" stroke="#6a6a6a" stroke-width="1" stroke-linejoin="miter" stroke-linecap="butt" stroke-dasharray="4 3" />
<polyline points="1122,881 1178,863" fill="none" stroke="#6a6a6a" stroke-width="1" stroke-linejoin="miter" stroke-linecap="butt" stroke-dasharray="4 3" />
<polyline points="1178,863 1272,875" fill="none" stroke="#6a6a6a" stroke-width="1" stroke-linejoin="miter" stroke-linecap="butt" stroke-dasharray="4 3" />
<polyline points="1122,958 1210,970" fill="none" stroke="#6a6a6a" stroke-width="1" stroke-linejoin="miter" stroke-linecap="butt" stroke-dasharray="4 3" />
<polyline points="1210,970 1272,952" fill="none" stroke="#6a6a6a" stroke-width="1" stroke-linejoin="miter" stroke-linecap="butt" stroke-dasharray="4 3" />
<polyline points="1210,975 1272,957" fill="none" stroke="#6a6a6a" stroke-width="1" stroke-linejoin="miter" stroke-linecap="butt" stroke-dasharray="4 3" />
<polyline points="1122,958 1178,940" fill="none" stroke="#6a6a6a" stroke-width="1" stroke-linejoin="miter" stroke-linecap="butt" stroke-dasharray="4 3" />
<polyline points="1178,940 1272,952" fill="none" stroke="#6a6a6a" stroke-width="1" stroke-linejoin="miter" stroke-linecap="butt" stroke-dasharray="4 3" />
<polyline points="953,855 992,842 1115,858" fill="none" stroke="#6a6a6a" stroke-width="1" stroke-linejoin="miter" stroke-linecap="butt" stroke-dasharray="4 3" />
<polyline points="936,900 992,882 1115,898" fill="none" stroke="#6a6a6a" stroke-width="1" stroke-linejoin="miter" stroke-linecap="butt" stroke-dasharray="4 3" />
<polyline points="845,930 1209,980" fill="none" stroke="#6a6a6a" stroke-width="1" stroke-linejoin="miter" stroke-linecap="butt" stroke-dasharray="4 3" />
<polyline points="962,630 1118,655.6" fill="none" stroke="#6a6a6a" stroke-width="1" stroke-linejoin="miter" stroke-linecap="butt" stroke-dasharray="4 3" />
<polyline points="962,636 1118,661" fill="none" stroke="#6a6a6a" stroke-width="1" stroke-linejoin="miter" stroke-linecap="butt" stroke-dasharray="4 3" />
<polyline points="925,591 1118,606" fill="none" stroke="#6a6a6a" stroke-width="1" stroke-linejoin="miter" stroke-linecap="butt" stroke-dasharray="4 3" />
<polyline points="834.4,937.8 834.8,524.6 855,518 865,520 899.4,507.6 1272.4,565 1272.4,974 1233.6,985 1233.6,988 1209.6,995 1209.6,991.6 845.9,936 834.4,937.8" fill="none" stroke="#6b6b6b" stroke-width="3.5" stroke-linejoin="miter" stroke-linecap="butt" />
<polyline points="860.6,537.6 860.6,609.6" fill="none" stroke="#e3161f" stroke-width="3.2" stroke-linejoin="miter" stroke-linecap="butt" />
<polyline points="946.5,550.5 946.5,613.3" fill="none" stroke="#e3161f" stroke-width="3.2" stroke-linejoin="miter" stroke-linecap="butt" />
<polyline points="936.3,612.4 1119,639.7" fill="none" stroke="#e3161f" stroke-width="3.2" stroke-linejoin="miter" stroke-linecap="butt" />
<polyline points="1094.2,636 1148.6,615.7" fill="none" stroke="#e3161f" stroke-width="3.2" stroke-linejoin="miter" stroke-linecap="butt" />
<polyline points="950.2,618 950.2,848" fill="none" stroke="#e3161f" stroke-width="3.2" stroke-linejoin="miter" stroke-linecap="butt" />
<polyline points="845.9,684.3 933.6,699" fill="none" stroke="#e3161f" stroke-width="3.2" stroke-linejoin="miter" stroke-linecap="butt" />
<polyline points="859.7,691.7 859.7,763.7" fill="none" stroke="#e3161f" stroke-width="3.2" stroke-linejoin="miter" stroke-linecap="butt" />
<polyline points="863.4,842.7 914.2,822.4" fill="none" stroke="#e3161f" stroke-width="3.2" stroke-linejoin="miter" stroke-linecap="butt" />
<polyline points="859.7,846.4 859.7,921.2" fill="none" stroke="#e3161f" stroke-width="3.2" stroke-linejoin="miter" stroke-linecap="butt" />
<polyline points="1156,658 1156,732" fill="none" stroke="#e3161f" stroke-width="3.2" stroke-linejoin="miter" stroke-linecap="butt" />
<polyline points="1185.6,735.7 1242.8,716.3" fill="none" stroke="#e3161f" stroke-width="3.2" stroke-linejoin="miter" stroke-linecap="butt" />
<polyline points="1121.9,805 1208.7,817.9" fill="none" stroke="#e3161f" stroke-width="3.2" stroke-linejoin="miter" stroke-linecap="butt" />
<polyline points="1195.7,819.7 1194.8,892.8" fill="none" stroke="#e3161f" stroke-width="3.2" stroke-linejoin="miter" stroke-linecap="butt" />
<polyline points="715.1,841.5 991.7,918.4" fill="none" stroke="#111" stroke-width="1" stroke-linejoin="miter" stroke-linecap="butt" />
<g transform="translate(862,484) rotate(-20)"><text x="-41.5" y="11.2" class="t b" font-size="31">59</text><text transform="translate(-6.0,11.2) scale(1.15,1)" class="t u" font-size="31">cm</text></g>
<g transform="translate(1089,504) rotate(8)"><text x="-50.1" y="11.2" class="t b" font-size="31">224</text><text transform="translate(2.6,11.2) scale(1.15,1)" class="t u" font-size="31">cm</text></g>
<g transform="translate(877,573) rotate(90)"><text x="-41.5" y="11.2" class="t b" font-size="31">37</text><text transform="translate(-6.0,11.2) scale(1.15,1)" class="t u" font-size="31">cm</text></g>
<g transform="translate(962,572) rotate(90)"><text x="-41.5" y="11.2" class="t b" font-size="31">29</text><text transform="translate(-6.0,11.2) scale(1.15,1)" class="t u" font-size="31">cm</text></g>
<g transform="translate(1032,613) rotate(8)"><text x="-50.1" y="11.2" class="t b" font-size="31">108</text><text transform="translate(2.6,11.2) scale(1.15,1)" class="t u" font-size="31">cm</text></g>
<g transform="translate(1125,613) rotate(-22)"><text x="-41.5" y="11.2" class="t b" font-size="31">50</text><text transform="translate(-6.0,11.2) scale(1.15,1)" class="t u" font-size="31">cm</text></g>
<g transform="translate(891,677) rotate(8)"><text x="-41.5" y="11.2" class="t b" font-size="31">52</text><text transform="translate(-6.0,11.2) scale(1.15,1)" class="t u" font-size="31">cm</text></g>
<g transform="translate(875,731) rotate(90)"><text x="-41.5" y="11.2" class="t b" font-size="31">38</text><text transform="translate(-6.0,11.2) scale(1.15,1)" class="t u" font-size="31">cm</text></g>
<g transform="translate(966,745) rotate(90)"><text x="-50.1" y="11.2" class="t b" font-size="31">120</text><text transform="translate(2.6,11.2) scale(1.15,1)" class="t u" font-size="31">cm</text></g>
<g transform="translate(883,817) rotate(-20)"><text x="-41.5" y="11.2" class="t b" font-size="31">50</text><text transform="translate(-6.0,11.2) scale(1.15,1)" class="t u" font-size="31">cm</text></g>
<g transform="translate(875,885) rotate(90)"><text x="-41.5" y="11.2" class="t b" font-size="31">39</text><text transform="translate(-6.0,11.2) scale(1.15,1)" class="t u" font-size="31">cm</text></g>
<g transform="translate(1141,695) rotate(-90)"><text x="-41.5" y="11.2" class="t b" font-size="31">38</text><text transform="translate(-6.0,11.2) scale(1.15,1)" class="t u" font-size="31">cm</text></g>
<g transform="translate(1206,715) rotate(-20)"><text x="-41.5" y="11.2" class="t b" font-size="31">50</text><text transform="translate(-6.0,11.2) scale(1.15,1)" class="t u" font-size="31">cm</text></g>
<g transform="translate(1165,797) rotate(8)"><text x="-41.5" y="11.2" class="t b" font-size="31">52</text><text transform="translate(-6.0,11.2) scale(1.15,1)" class="t u" font-size="31">cm</text></g>
<g transform="translate(1181,856) rotate(-90)"><text x="-41.5" y="11.2" class="t b" font-size="31">37</text><text transform="translate(-6.0,11.2) scale(1.15,1)" class="t u" font-size="31">cm</text></g>
<g transform="translate(1310,775) rotate(90)"><text x="-50.1" y="11.2" class="t b" font-size="31">210</text><text transform="translate(2.6,11.2) scale(1.15,1)" class="t u" font-size="31">cm</text></g>
<polygon points="578.5,774 629.3,732.5 801,797.2 801,847 760,863 757,872 578.5,806.4" fill="#fff" stroke="none" stroke-width="0" stroke-linejoin="miter" filter="url(#sh)"/>
<polyline points="578.5,806.4 578.5,774 629.3,732.5 801,797.2 801,847 760,862 757,863 757,872 578.5,806.4" fill="none" stroke="#6b6b6b" stroke-width="3" stroke-linejoin="miter" stroke-linecap="butt" />
<polyline points="578.5,774 756.7,835 799,800" fill="none" stroke="#5a5a5a" stroke-width="1" stroke-linejoin="miter" stroke-linecap="butt" />
<polyline points="756.7,835 756.7,872" fill="none" stroke="#5a5a5a" stroke-width="1" stroke-linejoin="miter" stroke-linecap="butt" />
<polyline points="580,778 756,839" fill="none" stroke="#5a5a5a" stroke-width="1" stroke-linejoin="miter" stroke-linecap="butt" />
<polyline points="629.3,737 629.3,759 609,778" fill="none" stroke="#5a5a5a" stroke-width="1" stroke-linejoin="miter" stroke-linecap="butt" />
<polyline points="629.3,759 778,813" fill="none" stroke="#5a5a5a" stroke-width="1" stroke-linejoin="miter" stroke-linecap="butt" />
<polygon points="653,798 676,806 674,810 655,802" fill="#ddd" stroke="#5a5a5a" stroke-width="1" stroke-linejoin="miter" />
<polyline points="592.3,773.2 629.3,737.2 796.4,799" fill="none" stroke="#e3161f" stroke-width="3.2" stroke-linejoin="miter" stroke-linecap="butt" />
<polyline points="778,818.4 778,842.4" fill="none" stroke="#e3161f" stroke-width="3.2" stroke-linejoin="miter" stroke-linecap="butt" />
<g transform="translate(602,746) rotate(-40)"><text x="-41.5" y="11.2" class="t b" font-size="31">43</text><text transform="translate(-6.0,11.2) scale(1.15,1)" class="t u" font-size="31">cm</text></g>
<g transform="translate(713,752) rotate(20)"><text x="-50.1" y="11.2" class="t b" font-size="31">102</text><text transform="translate(2.6,11.2) scale(1.15,1)" class="t u" font-size="31">cm</text></g>
<g transform="translate(791,837) rotate(90)"><text x="-41.5" y="11.2" class="t b" font-size="31">15</text><text transform="translate(-6.0,11.2) scale(1.15,1)" class="t u" font-size="31">cm</text></g>
<path d="M187.7,760.2 L344,760.2 Q360.6,760.2 360.6,777 L360.6,880 L163,880 L163,797.6 C185,826 215,840 241,843 C215,826 194,790 187.7,760.2 Z" fill="#6f6d6c"/>
<polygon points="209.52,770.26 210.16,771.98 212.0,772.06 210.56,773.2 211.05,774.97 209.52,773.95 207.99,774.97 208.48,773.2 207.05,772.06 208.88,771.98" fill="#fff"/>
<polygon points="233.38,764.3 234.02,766.02 235.85,766.1 234.42,767.24 234.91,769.0 233.38,767.99 231.85,769.0 232.34,767.24 230.91,766.1 232.74,766.02" fill="#fff"/>
<polygon points="270.16,762.62 270.48,763.47 271.4,763.51 270.68,764.09 270.92,764.97 270.16,764.46 269.39,764.97 269.64,764.09 268.92,763.51 269.84,763.47" fill="#fff"/>
<polygon points="281.09,769.86 282.08,772.5 284.9,772.62 282.69,774.38 283.44,777.09 281.09,775.54 278.74,777.09 279.5,774.38 277.29,772.62 280.11,772.5" fill="#fff"/>
<polygon points="306.94,767.59 307.26,768.44 308.17,768.48 307.46,769.06 307.7,769.94 306.94,769.43 306.17,769.94 306.42,769.06 305.7,768.48 306.62,768.44" fill="#fff"/>
<polygon points="325.83,766.29 326.47,768.0 328.3,768.08 326.86,769.22 327.35,770.99 325.83,769.98 324.3,770.99 324.79,769.22 323.35,768.08 325.18,768.0" fill="#fff"/>
<polygon points="345.71,771.84 346.69,774.49 349.51,774.61 347.3,776.36 348.06,779.08 345.71,777.52 343.35,779.08 344.11,776.36 341.9,774.61 344.72,774.49" fill="#fff"/>
<polygon points="255.25,771.56 255.57,772.42 256.48,772.46 255.77,773.03 256.01,773.91 255.25,773.41 254.48,773.91 254.73,773.03 254.01,772.46 254.93,772.42" fill="#fff"/>
<polygon points="224.43,780.79 225.42,783.43 228.24,783.56 226.03,785.31 226.78,788.03 224.43,786.47 222.08,788.03 222.84,785.31 220.63,783.56 223.45,783.43" fill="#fff"/>
<polygon points="241.33,776.23 241.97,777.94 243.8,778.02 242.37,779.16 242.86,780.93 241.33,779.92 239.8,780.93 240.29,779.16 238.86,778.02 240.69,777.94" fill="#fff"/>
<polygon points="244.31,785.17 244.96,786.89 246.79,786.97 245.35,788.11 245.84,789.88 244.31,788.87 242.79,789.88 243.28,788.11 241.84,786.97 243.67,786.89" fill="#fff"/>
<polygon points="260.22,783.49 260.54,784.35 261.46,784.39 260.74,784.96 260.98,785.84 260.22,785.34 259.45,785.84 259.7,784.96 258.98,784.39 259.9,784.35" fill="#fff"/>
<polygon points="266.18,781.2 266.82,782.91 268.66,782.99 267.22,784.13 267.71,785.9 266.18,784.89 264.65,785.9 265.14,784.13 263.71,782.99 265.54,782.91" fill="#fff"/>
<polygon points="291.03,779.52 291.35,780.37 292.27,780.41 291.55,780.98 291.8,781.87 291.03,781.36 290.27,781.87 290.51,780.98 289.8,780.41 290.71,780.37" fill="#fff"/>
<polygon points="300.97,775.23 301.62,776.95 303.45,777.03 302.01,778.17 302.5,779.94 300.97,778.93 299.45,779.94 299.94,778.17 298.5,777.03 300.33,776.95" fill="#fff"/>
<polygon points="320.85,776.23 321.5,777.94 323.33,778.02 321.89,779.16 322.38,780.93 320.85,779.92 319.33,780.93 319.82,779.16 318.38,778.02 320.21,777.94" fill="#fff"/>
<polygon points="332.78,773.55 333.1,774.41 334.02,774.45 333.3,775.02 333.55,775.9 332.78,775.4 332.02,775.9 332.26,775.02 331.55,774.45 332.46,774.41" fill="#fff"/>
<polygon points="206.54,789.46 206.86,790.31 207.78,790.35 207.06,790.92 207.3,791.81 206.54,791.3 205.78,791.81 206.02,790.92 205.3,790.35 206.22,790.31" fill="#fff"/>
<polygon points="279.11,788.16 279.75,789.87 281.58,789.95 280.14,791.09 280.63,792.86 279.11,791.85 277.58,792.86 278.07,791.09 276.63,789.95 278.46,789.87" fill="#fff"/>
<polygon points="308.93,785.48 309.25,786.34 310.16,786.38 309.45,786.95 309.69,787.83 308.93,787.33 308.16,787.83 308.41,786.95 307.69,786.38 308.61,786.34" fill="#fff"/>
<polygon points="297.0,790.73 297.99,793.37 300.8,793.5 298.6,795.25 299.35,797.97 297.0,796.41 294.65,797.97 295.4,795.25 293.19,793.5 296.01,793.37" fill="#fff"/>
<polygon points="335.77,791.14 336.41,792.85 338.24,792.93 336.8,794.08 337.29,795.84 335.77,794.83 334.24,795.84 334.73,794.08 333.29,792.93 335.12,792.85" fill="#fff"/>
<polygon points="349.68,790.45 350.0,791.31 350.92,791.35 350.2,791.92 350.45,792.8 349.68,792.3 348.92,792.8 349.16,791.92 348.45,791.35 349.36,791.31" fill="#fff"/>
<polygon points="223.44,798.1 224.08,799.81 225.91,799.89 224.48,801.03 224.97,802.8 223.44,801.79 221.91,802.8 222.4,801.03 220.97,799.89 222.8,799.81" fill="#fff"/>
<polygon points="248.29,798.1 248.93,799.81 250.76,799.89 249.33,801.03 249.82,802.8 248.29,801.79 246.76,802.8 247.25,801.03 245.82,799.89 247.65,799.81" fill="#fff"/>
<polygon points="255.25,798.1 255.89,799.81 257.72,799.89 256.29,801.03 256.78,802.8 255.25,801.79 253.72,802.8 254.21,801.03 252.78,799.89 254.61,799.81" fill="#fff"/>
<polygon points="265.19,794.43 265.51,795.28 266.43,795.32 265.71,795.89 265.95,796.78 265.19,796.27 264.42,796.78 264.67,795.89 263.95,795.32 264.87,795.28" fill="#fff"/>
<polygon points="314.89,797.1 315.53,798.82 317.36,798.9 315.93,800.04 316.42,801.81 314.89,800.79 313.36,801.81 313.85,800.04 312.42,798.9 314.25,798.82" fill="#fff"/>
<polygon points="213.5,806.05 214.14,807.76 215.97,807.84 214.54,808.99 215.03,810.75 213.5,809.74 211.97,810.75 212.46,808.99 211.03,807.84 212.86,807.76" fill="#fff"/>
<polygon points="235.37,809.03 236.01,810.75 237.84,810.83 236.41,811.97 236.9,813.73 235.37,812.72 233.84,813.73 234.33,811.97 232.9,810.83 234.73,810.75" fill="#fff"/>
<polygon points="271.15,805.05 271.79,806.77 273.63,806.85 272.19,807.99 272.68,809.76 271.15,808.75 269.62,809.76 270.11,807.99 268.68,806.85 270.51,806.77" fill="#fff"/>
<polygon points="284.08,807.35 284.4,808.21 285.31,808.25 284.59,808.82 284.84,809.7 284.08,809.19 283.31,809.7 283.56,808.82 282.84,808.25 283.75,808.21" fill="#fff"/>
<polygon points="288.05,805.05 288.69,806.77 290.52,806.85 289.09,807.99 289.58,809.76 288.05,808.75 286.52,809.76 287.01,807.99 285.58,806.85 287.41,806.77" fill="#fff"/>
<polygon points="319.86,806.35 320.18,807.21 321.1,807.25 320.38,807.82 320.62,808.71 319.86,808.2 319.1,808.71 319.34,807.82 318.62,807.25 319.54,807.21" fill="#fff"/>
<polygon points="341.73,807.04 342.37,808.76 344.2,808.84 342.77,809.98 343.26,811.75 341.73,810.73 340.2,811.75 340.69,809.98 339.26,808.84 341.09,808.76" fill="#fff"/>
<polygon points="218.47,814.99 219.11,816.71 220.94,816.79 219.51,817.93 220.0,819.7 218.47,818.69 216.94,819.7 217.43,817.93 216.0,816.79 217.83,816.71" fill="#fff"/>
<polygon points="255.25,815.58 256.24,818.22 259.05,818.35 256.85,820.1 257.6,822.82 255.25,821.26 252.9,822.82 253.65,820.1 251.44,818.35 254.26,818.22" fill="#fff"/>
<polygon points="275.13,820.96 275.77,822.68 277.6,822.76 276.17,823.9 276.66,825.66 275.13,824.65 273.6,825.66 274.09,823.9 272.66,822.76 274.49,822.68" fill="#fff"/>
<polygon points="285.07,819.28 285.39,820.13 286.31,820.17 285.59,820.75 285.83,821.63 285.07,821.12 284.31,821.63 284.55,820.75 283.83,820.17 284.75,820.13" fill="#fff"/>
<polygon points="297.99,815.58 298.98,818.22 301.8,818.35 299.59,820.1 300.34,822.82 297.99,821.26 295.64,822.82 296.39,820.1 294.19,818.35 297.0,818.22" fill="#fff"/>
<polygon points="304.95,814.31 305.27,815.16 306.19,815.2 305.47,815.78 305.71,816.66 304.95,816.15 304.19,816.66 304.43,815.78 303.71,815.2 304.63,815.16" fill="#fff"/>
<polygon points="320.85,820.96 321.5,822.68 323.33,822.76 321.89,823.9 322.38,825.66 320.85,824.65 319.33,825.66 319.82,823.9 318.38,822.76 320.21,822.68" fill="#fff"/>
<polygon points="333.78,823.53 334.76,826.18 337.58,826.3 335.38,828.05 336.13,830.77 333.78,829.21 331.43,830.77 332.18,828.05 329.97,826.3 332.79,826.18" fill="#fff"/>
<polygon points="348.69,824.25 349.01,825.1 349.92,825.14 349.21,825.72 349.45,826.6 348.69,826.09 347.92,826.6 348.17,825.72 347.45,825.14 348.37,825.1" fill="#fff"/>
<polygon points="171.75,818.28 172.07,819.14 172.99,819.18 172.27,819.75 172.51,820.63 171.75,820.13 170.99,820.63 171.23,819.75 170.51,819.18 171.43,819.14" fill="#fff"/>
<polygon points="180.7,824.93 181.34,826.65 183.17,826.73 181.73,827.87 182.22,829.64 180.7,828.63 179.17,829.64 179.66,827.87 178.22,826.73 180.05,826.65" fill="#fff"/>
<polygon points="236.36,823.25 236.68,824.11 237.6,824.15 236.88,824.72 237.13,825.6 236.36,825.1 235.6,825.6 235.84,824.72 235.13,824.15 236.04,824.11" fill="#fff"/>
<polygon points="241.33,829.22 241.65,830.08 242.57,830.12 241.85,830.69 242.1,831.57 241.33,831.06 240.57,831.57 240.81,830.69 240.1,830.12 241.01,830.08" fill="#fff"/>
<polygon points="259.22,828.22 259.55,829.08 260.46,829.12 259.74,829.69 259.99,830.57 259.22,830.07 258.46,830.57 258.71,829.69 257.99,829.12 258.9,829.08" fill="#fff"/>
<polygon points="171.75,831.89 172.39,833.61 174.22,833.69 172.79,834.83 173.28,836.6 171.75,835.59 170.22,836.6 170.71,834.83 169.28,833.69 171.11,833.61" fill="#fff"/>
<polygon points="193.62,838.16 193.94,839.02 194.85,839.06 194.14,839.63 194.38,840.51 193.62,840.01 192.85,840.51 193.1,839.63 192.38,839.06 193.3,839.02" fill="#fff"/>
<polygon points="196.6,840.15 196.92,841.01 197.84,841.05 197.12,841.62 197.36,842.5 196.6,842.0 195.84,842.5 196.08,841.62 195.36,841.05 196.28,841.01" fill="#fff"/>
<polygon points="208.53,838.85 209.17,840.57 211.0,840.65 209.57,841.79 210.06,843.55 208.53,842.54 207.0,843.55 207.49,841.79 206.06,840.65 207.89,840.57" fill="#fff"/>
<polygon points="180.7,841.43 181.68,844.07 184.5,844.19 182.29,845.95 183.05,848.66 180.7,847.11 178.34,848.66 179.1,845.95 176.89,844.19 179.71,844.07" fill="#fff"/>
<polygon points="222.45,850.09 222.77,850.95 223.68,850.99 222.96,851.56 223.21,852.44 222.45,851.94 221.68,852.44 221.93,851.56 221.21,850.99 222.12,850.95" fill="#fff"/>
<polygon points="200.58,851.77 201.22,853.49 203.05,853.57 201.62,854.71 202.1,856.48 200.58,855.47 199.05,856.48 199.54,854.71 198.1,853.57 199.93,853.49" fill="#fff"/>
<polygon points="184.67,860.03 184.99,860.89 185.91,860.93 185.19,861.5 185.44,862.38 184.67,861.88 183.91,862.38 184.15,861.5 183.44,860.93 184.35,860.89" fill="#fff"/>
<polygon points="141.9,887.2 277.1,911.0 277.1,934.9 141.9,907.1" fill="#f7f7f7" stroke="#6f6d6c" stroke-width="2" stroke-linejoin="miter" />
<polygon points="277.1,911.0 390.4,865.3 390.4,885.2 277.1,934.9" fill="#f7f7f7" stroke="#6f6d6c" stroke-width="2" stroke-linejoin="miter" />
<polyline points="141.9,907.1 277.1,937.9 390.4,885.2" fill="none" stroke="#6f6d6c" stroke-width="3" stroke-linejoin="miter" stroke-linecap="butt" />
<polygon points="141.9,887.2 233.4,858.3 295.0,870.3 346.7,880.2 277.1,910.0" fill="#e10f14" stroke="none" stroke-width="0" stroke-linejoin="miter" />
<path d="M232.4,855.0 C241.3,845.4 257.2,837.5 273.1,833.1 C281.1,831.5 289.0,835.5 299.0,837.5 C312.9,839.5 326.8,841.5 330.8,847.4 L330.8,861.3 C320.9,867.3 308.9,871.3 295.0,871.7 C285.1,869.3 281.1,865.3 269.2,863.3 C253.3,860.3 241.3,858.3 232.4,855.0 Z" fill="#fbfbfb" stroke="#8a8a8a" stroke-width="1.3"/>
<path d="M293.0,845.4 C308.9,839.5 328.8,840.5 344.7,843.4 C364.6,847.4 380.5,851.4 392.0,857.4 C388.4,863.3 376.5,869.3 358.6,875.2 C352.7,879.2 348.7,878.2 344.7,877.2 C328.8,874.3 308.9,871.3 293.0,869.3 Z" fill="#fbfbfb" stroke="#8a8a8a" stroke-width="1.3"/>
<path d="M294.0,858.3 C299.0,849.4 308.9,845.4 319.9,847.8 C308.9,848.4 301.0,852.4 294.0,858.3 Z" fill="#6f6d6c"/>
<path d="M355.6,867.3 C360.6,859.3 370.6,855.4 380.5,858.3 C370.6,858.9 362.6,862.3 355.6,867.3 Z" fill="#6f6d6c"/>
<polyline points="139.9,916.0 277.1,948.8 397.4,892.1" fill="none" stroke="#e10f14" stroke-width="3.5" stroke-linejoin="miter" stroke-linecap="butt" />
<polyline points="155.8,913.0 139.9,916.0 146.9,928.9" fill="none" stroke="#e10f14" stroke-width="3.5" stroke-linejoin="miter" stroke-linecap="butt" />
<polyline points="384.5,892.1 397.4,892.1 392.4,907.1" fill="none" stroke="#e10f14" stroke-width="3.5" stroke-linejoin="miter" stroke-linecap="butt" />
<text x="403" y="869.7" class="t b" font-size="38" style="fill:#6b6867">160 x 200</text>
</svg></body></html>
